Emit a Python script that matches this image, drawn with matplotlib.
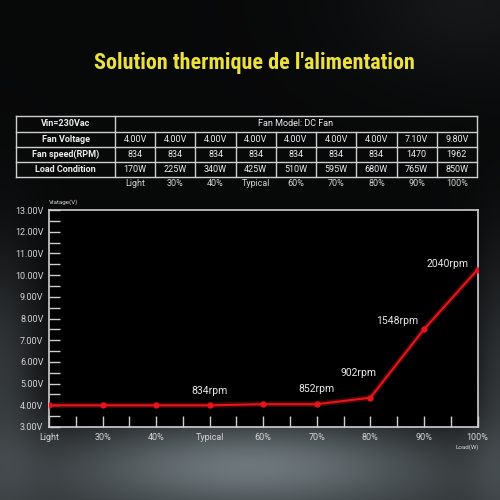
import matplotlib
matplotlib.use("Agg")
import matplotlib.pyplot as plt
from matplotlib import font_manager
from matplotlib.ticker import MultipleLocator, FixedLocator
import numpy as np

plt.rcParams['font.family'] = ['Roboto', 'DejaVu Sans']

# data
loads = ["Light", "30%", "40%", "Typical", "60%", "70%", "80%", "90%", "100%"]
fan_voltage = ["4.00V", "4.00V", "4.00V", "4.00V", "4.00V", "4.00V", "4.00V", "7.10V", "9.80V"]
fan_speed = ["834", "834", "834", "834", "834", "834", "834", "1470", "1962"]
load_watts = ["170W", "225W", "340W", "425W", "510W", "595W", "680W", "765W", "850W"]
row_labels = ["Fan Voltage", "Fan speed(RPM)", "Load Condition"]
volts = [4.00, 4.00, 4.00, 4.00, 4.05, 4.05, 4.35, 7.50, 10.25]
rpm_idx = [3, 5, 6, 7, 8]
rpm_text = ["834rpm", "852rpm", "902rpm", "1548rpm", "2040rpm"]
rpm_off = [(0, 14), (0, 15), (-12, 25), (-27, 8), (-30, 6)]

fig = plt.figure(figsize=(5, 5), dpi=100)
fig.patch.set_facecolor("#060606")

# smoky background
bg = fig.add_axes([0, 0, 1, 1], zorder=-10)
yy, xx = np.mgrid[0:500, 0:500]
img = np.full((500, 500), 0.035)
img += 0.34 * np.exp(-((xx - 250) / 190.0) ** 2 - ((yy - 462) / 45.0) ** 2)
img += 0.16 * np.exp(-((yy - 520) / 90.0) ** 2)
img += 0.18 * np.exp(-((xx - 0) / 40.0) ** 2 - ((yy - 370) / 120.0) ** 2)
img += 0.16 * np.exp(-((xx - 500) / 30.0) ** 2 - ((yy - 380) / 130.0) ** 2)
img += 0.06 * np.exp(-((xx - 470) / 120.0) ** 2 - ((yy - 0) / 80.0) ** 2)
img = np.clip(img, 0, 1)
rgb = np.dstack([img * 0.88, img * 0.96, img * 1.0])
bg.imshow(rgb, extent=(0, 500, 500, 0), aspect="auto")
bg.set_xlim(0, 500)
bg.set_ylim(500, 0)
bg.axis("off")

# overlay in pixel coords for title and table
ov = fig.add_axes([0, 0, 1, 1], zorder=5)
ov.set_xlim(0, 500)
ov.set_ylim(500, 0)
ov.axis("off")
ov.patch.set_alpha(0)

# pick the narrowest font that is there
names = {f.name for f in font_manager.fontManager.ttflist}
title_font = "DejaVu Sans"
for cand in ["Liberation Sans Narrow", "DejaVu Sans Condensed", "Roboto Condensed", "Open Sans Condensed", "Roboto"]:
    if cand in names:
        title_font = cand
        break
title = ov.text(254, 63, "Solution thermique de l'alimentation", color="#ece13c",
                fontsize=20, fontweight="bold", ha="center", va="center",
                family=title_font)
fig.canvas.draw()
w = title.get_window_extent().width
title.set_fontsize(20 * 320 / w)

# table
tc = "#cfcfcf"
x0, x1, xr = 16, 115, 477
cw = (xr - x1) / len(loads)
rows_y = [116, 132, 147, 162, 177]
for y in rows_y:
    ov.plot([x0, xr], [y, y], color=tc, lw=1)
ov.plot([x0, x0], [rows_y[0], rows_y[-1]], color=tc, lw=1)
ov.plot([x1, x1], [rows_y[0], rows_y[-1]], color=tc, lw=1)
ov.plot([xr, xr], [rows_y[0], rows_y[-1]], color=tc, lw=1)
for i in range(1, len(loads)):
    ov.plot([x1 + cw * i] * 2, [rows_y[1], rows_y[-1]], color=tc, lw=1)

tcol = "#ececec"
ov.text((x0 + x1) / 2, (rows_y[0] + rows_y[1]) / 2, "Vin=230Vac", color=tcol,
        fontsize=6.5, fontweight="bold", ha="center", va="center")
ov.text((x1 + xr) / 2, (rows_y[0] + rows_y[1]) / 2, "Fan Model: DC Fan", color=tcol,
        fontsize=6.5, ha="center", va="center")
for r, (lab, vals) in enumerate(zip(row_labels, [fan_voltage, fan_speed, load_watts])):
    yc = (rows_y[r + 1] + rows_y[r + 2]) / 2
    ov.text((x0 + x1) / 2, yc, lab, color=tcol, fontsize=6.5, fontweight="bold",
            ha="center", va="center")
    for i, v in enumerate(vals):
        ov.text(x1 + cw * (i + 0.5), yc, v, color=tcol, fontsize=6.5,
                ha="center", va="center")
for i, lab in enumerate(loads):
    ov.text(x1 + cw * (i + 0.5), 184, lab, color="#d4d4d4", fontsize=6.5,
            ha="center", va="center")

# chart
ax = fig.add_axes([49 / 500, 73 / 500, 428.5 / 500, 217 / 500])
ax.set_facecolor("black")
x = np.arange(len(loads))
ax.plot(x, volts, color="#ff2020", lw=4, alpha=0.25, zorder=3)
ax.plot(x, volts, color="#e8141c", lw=1.5, marker="o", ms=3.5, zorder=4)
ax.set_xlim(0, len(loads) - 1)
ax.set_ylim(3, 13)
ax.xaxis.set_major_locator(FixedLocator(x))
ax.xaxis.set_minor_locator(MultipleLocator(0.5))
ax.set_xticklabels(loads)
ax.yaxis.set_major_locator(MultipleLocator(1))
ax.yaxis.set_minor_locator(MultipleLocator(0.5))
ax.set_yticklabels([f"{v:.2f}V" for v in ax.get_yticks()])
ax.tick_params(which="both", direction="in", length=8, width=1, color="#cfcfcf",
               labelcolor="#d4d4d4", labelsize=6.5, pad=4)
for s in ax.spines.values():
    s.set_color("#cfcfcf")
    s.set_linewidth(1.2)

for i, t, off in zip(rpm_idx, rpm_text, rpm_off):
    ax.annotate(t, (x[i], volts[i]), xytext=off, textcoords="offset pixels",
                color="#e8e8e8", fontsize=7.5, ha="center", va="center")

ov.text(49, 202, "Vlatage(V)", color="#d4d4d4", fontsize=4.5, ha="left", va="center")
ov.text(467, 447, "Load(W)", color="#d4d4d4", fontsize=4.5, ha="center", va="center")

fig.savefig("out.png", dpi=100, facecolor=fig.get_facecolor())
